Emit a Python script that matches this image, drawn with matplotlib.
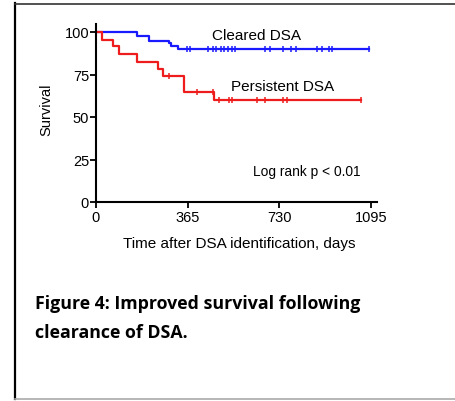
import matplotlib
matplotlib.use('Agg')
import matplotlib.pyplot as plt
from matplotlib.lines import Line2D

# Kaplan-Meier curves (days, % survival)
cleared_days = [0, 165, 211, 289, 298, 328, 1090]
cleared_surv = [100, 97.7, 95.0, 93.4, 92.0, 89.8, 89.8]
cleared_censor = [364, 375, 447, 465, 477, 497, 511, 528, 541, 556,
                  674, 694, 747, 776, 798, 880, 900, 927, 940, 1090]

persist_days = [0, 25, 69, 92, 165, 249, 269, 351, 471, 1056]
persist_surv = [100, 95.3, 91.8, 87.3, 82.6, 78.5, 74.2, 65.0, 60.0, 60.0]
persist_censor = [290, 402, 468, 491, 531, 541, 641, 674, 747, 761, 1056]

x_ticks = [0, 365, 730, 1095]
y_ticks = [0, 25, 50, 75, 100]

caption = "Figure 4: Improved survival following\nclearance of DSA."

plt.rcParams['font.family'] = ['Liberation Sans', 'DejaVu Sans']

fig = plt.figure(figsize=(4.56, 4.02), dpi=100)
ax = fig.add_axes([96/456, 1 - 203/402, 281/456, 178.5/402])


def surv_at(days, surv, t):
    val = surv[0]
    for d, s in zip(days, surv):
        if d <= t:
            val = s
    return val


def draw_curve(days, surv, censor, color):
    ax.step(days, surv, where='post', color=color, lw=1.6)
    cy = [surv_at(days, surv, t) for t in censor]
    ax.plot(censor, cy, linestyle='none', marker='|', markersize=4,
            markeredgewidth=1.1, color=color)


draw_curve(cleared_days, cleared_surv, cleared_censor, '#1a1aff')
draw_curve(persist_days, persist_surv, persist_censor, '#ee1c1c')

ax.set_xlim(0, 1120)
ax.set_ylim(0, 105)
ax.set_xticks(x_ticks)
ax.set_yticks(y_ticks)
for side in ['top', 'right']:
    ax.spines[side].set_visible(False)
for side in ['left', 'bottom']:
    ax.spines[side].set_linewidth(1.5)
ax.tick_params(direction='out', length=4, width=1.3, labelsize=10.5, pad=1)
ax.tick_params(axis='x', pad=2)

ax.set_xlabel('Time after DSA identification, days', fontsize=11)
ax.set_ylabel('Survival', fontsize=10.5)
ax.xaxis.set_label_coords(0.51, -0.19)
ax.yaxis.set_label_coords(-0.153, 0.52)

ax.text(640, 98.5, 'Cleared DSA', fontsize=11, ha='center', va='center')
ax.text(745, 68.5, 'Persistent DSA', fontsize=11, ha='center', va='center')
ax.text(1055, 18.5, 'Log rank p < 0.01', fontsize=9.9, ha='right', va='center')

fig.text(35/456, 1 - 318.5/402, caption, fontsize=12.8, fontweight='bold',
         family=['Open Sans', 'DejaVu Sans'], ha='left', va='center',
         linespacing=1.75)

# page frame around the figure
fig.add_artist(Line2D([15/456, 15/456], [1 - 4/402, 1 - 400/402],
                      transform=fig.transFigure, color='black', lw=1.6))
fig.add_artist(Line2D([15/456, 1], [1 - 4.5/402, 1 - 4.5/402],
                      transform=fig.transFigure, color='#333333', lw=1.2))
fig.add_artist(Line2D([15/456, 1], [1 - 399.5/402, 1 - 399.5/402],
                      transform=fig.transFigure, color='#aaaaaa', lw=1.2))

fig.savefig('out.png', dpi=100)
